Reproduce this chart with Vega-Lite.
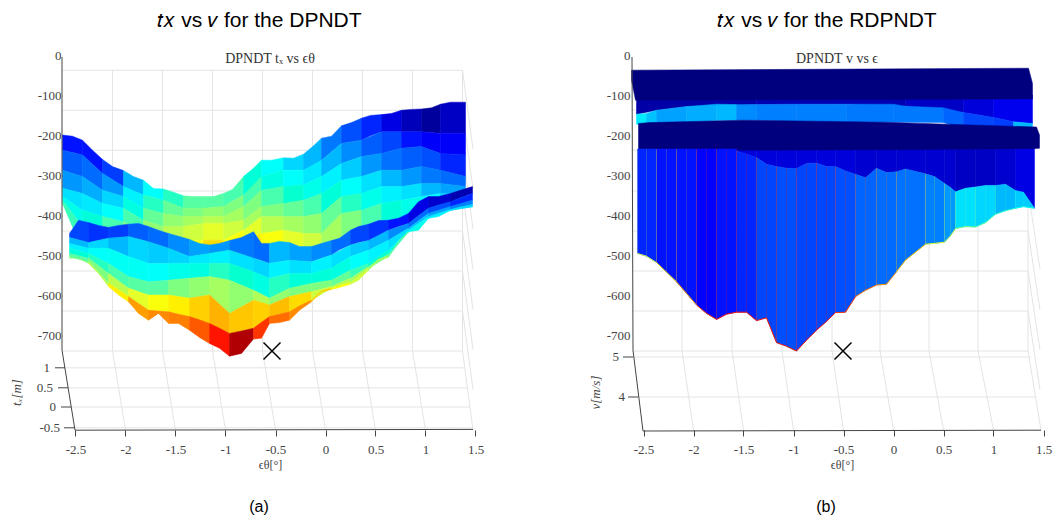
{"$schema":"https://vega.github.io/schema/vega-lite/v6.json","padding":0,"spacing":0,"background":"white","config":{"view":{"stroke":null}},
"hconcat":[
{"width":531,"height":517,
"title":{"text":"𝑡𝑥 vs 𝑣 for the DPNDT","font":"Liberation Sans","fontSize":21,"fontWeight":"normal","color":"#000000","anchor":"middle","dx":-6,"offset":-31},
"encoding":{
"x":{"field":"x","type":"quantitative","scale":{"domain":[-3.255,2.055],"nice":false,"zero":false},"axis":{"values":[-2.5,-2,-1.5,-1,-0.5,0,0.5,1,1.5],"labelExpr":"''+datum.value","offset":-87,"domain":false,"grid":false,"tickColor":"#444444","tickSize":6,"labelFont":"Liberation Serif","labelFontSize":13,"labelColor":"#444444","labelPadding":7,"title":"ϵθ[°]","titleFont":"Liberation Serif","titleFontSize":12,"titleFontWeight":"normal","titleColor":"#444444","titleX":270,"titleY":29}},
"y":{"field":"a","type":"quantitative","scale":{"domain":[-1155,137.5],"nice":false,"zero":false},"axis":{"values":[0,-100,-200,-300,-400,-500,-600,-700],"labelExpr":"''+datum.value","offset":-62,"domain":false,"grid":false,"ticks":false,"labelFont":"Liberation Serif","labelFontSize":13,"labelColor":"#444444","labelPadding":1,"title":"tₓ[m]","titleFont":"Liberation Serif","titleFontStyle":"italic","titleFontSize":13,"titleFontWeight":"normal","titleColor":"#444444","titleX":-39,"titleY":392}}},
"layer":[
{"mark":{"type":"rule","stroke":"#e4e4e4","strokeWidth":1},
"data":{"values":[
{"x":-2.63,"x2":1.37,"a":-38,"b":-38},{"x":-2.63,"x2":1.37,"a":-138,"b":-138},{"x":-2.63,"x2":1.37,"a":-238,"b":-238},{"x":-2.63,"x2":1.37,"a":-340,"b":-340},{"x":-2.63,"x2":1.37,"a":-440,"b":-440},{"x":-2.63,"x2":1.37,"a":-540,"b":-540},{"x":-2.63,"x2":1.37,"a":-640,"b":-640},{"x":-2.63,"x2":1.37,"a":-740,"b":-740},
{"x":-2.13,"x2":-2.13,"a":-38,"b":-740},{"x":-1.63,"x2":-1.63,"a":-38,"b":-740},{"x":-1.13,"x2":-1.13,"a":-38,"b":-740},{"x":-0.63,"x2":-0.63,"a":-38,"b":-740},{"x":-0.13,"x2":-0.13,"a":-38,"b":-740},{"x":0.37,"x2":0.37,"a":-38,"b":-740},{"x":0.87,"x2":0.87,"a":-38,"b":-740},{"x":1.37,"x2":1.37,"a":-38,"b":-740},
{"x":-2.13,"x2":-2,"a":-740,"b":-938},{"x":-1.63,"x2":-1.5,"a":-740,"b":-938},{"x":-1.13,"x2":-1,"a":-740,"b":-938},{"x":-0.63,"x2":-0.5,"a":-740,"b":-938},{"x":-0.13,"x2":0,"a":-740,"b":-938},{"x":0.37,"x2":0.5,"a":-740,"b":-938},{"x":0.87,"x2":1,"a":-740,"b":-938},{"x":1.37,"x2":1.475,"a":-740,"b":-938},
{"x":-2.6,"x2":1.385,"a":-782,"b":-782},{"x":-2.57,"x2":1.415,"a":-832,"b":-832},{"x":-2.54,"x2":1.445,"a":-880,"b":-880},{"x":-2.52,"x2":1.475,"a":-932,"b":-932},
{"x":1.37,"x2":1.475,"a":-38,"b":-235},{"x":1.37,"x2":1.475,"a":-138,"b":-335},{"x":1.37,"x2":1.475,"a":-238,"b":-435},{"x":1.37,"x2":1.475,"a":-340,"b":-537},{"x":1.37,"x2":1.475,"a":-440,"b":-637},{"x":1.37,"x2":1.475,"a":-540,"b":-737},{"x":1.37,"x2":1.475,"a":-640,"b":-837}
]},"encoding":{"x2":{"field":"x2"},"y2":{"field":"b"}}},
{"mark":{"type":"area","strokeWidth":0.5},
"data":{"values":[
{"x":[-2.63,-2.53,-2.43],"a":[-200,-203,-213],"b":[-238,-244,-250],"z":13},{"x":[-2.63,-2.43],"a":[-238,-250],"b":[-288,-304],"z":20},{"x":[-2.63,-2.43],"a":[-288,-304],"b":[-333,-346],"z":27},{"x":[-2.63,-2.43],"a":[-333,-346],"b":[-354,-388],"z":34},{"x":[-2.63,-2.43],"a":[-354,-388],"b":[-363,-429],"z":40},{"x":[-2.63,-2.43],"a":[-363,-429],"b":[-371,-488],"z":45},
{"x":[-2.43,-2.33,-2.23],"a":[-213,-238,-261],"b":[-250,-273,-296],"z":13},{"x":[-2.43,-2.23],"a":[-250,-296],"b":[-304,-338],"z":22},{"x":[-2.43,-2.23],"a":[-304,-338],"b":[-346,-371],"z":29},{"x":[-2.43,-2.23],"a":[-346,-371],"b":[-388,-404],"z":35},{"x":[-2.43,-2.23],"a":[-388,-404],"b":[-429,-446],"z":42},{"x":[-2.43,-2.23],"a":[-429,-446],"b":[-488,-488],"z":47},
{"x":[-2.23,-2.13,-2.02],"a":[-261,-279,-289],"b":[-296,-312,-329],"z":16},{"x":[-2.23,-2.02],"a":[-296,-329],"b":[-338,-354],"z":27},{"x":[-2.23,-2.02],"a":[-338,-354],"b":[-371,-383],"z":33},{"x":[-2.23,-2.02],"a":[-371,-383],"b":[-404,-417],"z":38},{"x":[-2.23,-2.02],"a":[-404,-417],"b":[-446,-454],"z":46},{"x":[-2.23,-2.02],"a":[-446,-454],"b":[-488,-488],"z":52},
{"x":[-2.02,-1.92,-1.82],"a":[-289,-304,-313],"b":[-329,-340,-350],"z":30},{"x":[-2.02,-1.82],"a":[-329,-350],"b":[-354,-383],"z":36},{"x":[-2.02,-1.82],"a":[-354,-383],"b":[-383,-413],"z":41},{"x":[-2.02,-1.82],"a":[-383,-413],"b":[-417,-446],"z":46},{"x":[-2.02,-1.82],"a":[-417,-446],"b":[-454,-463],"z":50},{"x":[-2.02,-1.82],"a":[-454,-463],"b":[-488,-488],"z":54},
{"x":[-1.82,-1.72,-1.62],"a":[-313,-334,-335],"b":[-350,-356,-363],"z":38},{"x":[-1.82,-1.62],"a":[-350,-363],"b":[-383,-396],"z":44},{"x":[-1.82,-1.62],"a":[-383,-396],"b":[-413,-429],"z":48},{"x":[-1.82,-1.62],"a":[-413,-429],"b":[-446,-454],"z":52},{"x":[-1.82,-1.62],"a":[-446,-454],"b":[-463,-471],"z":56},{"x":[-1.82,-1.62],"a":[-463,-471],"b":[-488,-496],"z":58},
{"x":[-1.62,-1.52,-1.42],"a":[-335,-343,-352],"b":[-363,-373,-383],"z":44},{"x":[-1.62,-1.42],"a":[-363,-383],"b":[-396,-404],"z":48},{"x":[-1.62,-1.42],"a":[-396,-404],"b":[-429,-429],"z":52},{"x":[-1.62,-1.42],"a":[-429,-429],"b":[-454,-463],"z":56},{"x":[-1.62,-1.42],"a":[-454,-463],"b":[-471,-479],"z":60},{"x":[-1.62,-1.42],"a":[-471,-479],"b":[-496,-496],"z":62},
{"x":[-1.42,-1.32,-1.22],"a":[-352,-354,-354],"b":[-383,-383,-383],"z":47},{"x":[-1.42,-1.22],"a":[-383,-383],"b":[-404,-404],"z":50},{"x":[-1.42,-1.22],"a":[-404,-404],"b":[-429,-421],"z":54},{"x":[-1.42,-1.22],"a":[-429,-421],"b":[-463,-463],"z":58},{"x":[-1.42,-1.22],"a":[-463,-463],"b":[-479,-479],"z":62},{"x":[-1.42,-1.22],"a":[-479,-479],"b":[-496,-504],"z":66},
{"x":[-1.22,-1.12,-1.02],"a":[-354,-354,-346],"b":[-383,-381,-379],"z":47},{"x":[-1.22,-1.02],"a":[-383,-379],"b":[-404,-404],"z":52},{"x":[-1.22,-1.02],"a":[-404,-404],"b":[-421,-421],"z":56},{"x":[-1.22,-1.02],"a":[-421,-421],"b":[-463,-463],"z":60},{"x":[-1.22,-1.02],"a":[-463,-463],"b":[-479,-479],"z":66},{"x":[-1.22,-1.02],"a":[-479,-479],"b":[-504,-504],"z":68},
{"x":[-1.02,-0.93,-0.82],"a":[-346,-336,-304],"b":[-379,-365,-350],"z":46},{"x":[-1.02,-0.82],"a":[-379,-350],"b":[-404,-379],"z":50},{"x":[-1.02,-0.82],"a":[-404,-379],"b":[-421,-413],"z":54},{"x":[-1.02,-0.82],"a":[-421,-413],"b":[-463,-438],"z":58},{"x":[-1.02,-0.82],"a":[-463,-438],"b":[-479,-463],"z":62},{"x":[-1.02,-0.82],"a":[-479,-463],"b":[-504,-504],"z":66},
{"x":[-0.82,-0.72,-0.64],"a":[-304,-283,-263],"b":[-350,-327,-304],"z":42},{"x":[-0.82,-0.64],"a":[-350,-304],"b":[-379,-338],"z":46},{"x":[-0.82,-0.64],"a":[-379,-338],"b":[-413,-379],"z":50},{"x":[-0.82,-0.64],"a":[-413,-379],"b":[-438,-404],"z":54},{"x":[-0.82,-0.64],"a":[-438,-404],"b":[-463,-446],"z":60},{"x":[-0.82,-0.64],"a":[-463,-446],"b":[-504,-504],"z":64},
{"x":[-0.64,-0.54,-0.42],"a":[-263,-263,-257],"b":[-304,-296,-288],"z":38},{"x":[-0.64,-0.42],"a":[-304,-288],"b":[-338,-329],"z":41},{"x":[-0.64,-0.42],"a":[-338,-329],"b":[-379,-371],"z":46},{"x":[-0.64,-0.42],"a":[-379,-371],"b":[-404,-404],"z":50},{"x":[-0.64,-0.42],"a":[-404,-404],"b":[-446,-438],"z":56},{"x":[-0.64,-0.42],"a":[-446,-438],"b":[-504,-496],"z":62},
{"x":[-0.42,-0.32,-0.22],"a":[-257,-258,-248],"b":[-288,-288,-288],"z":33},{"x":[-0.42,-0.22],"a":[-288,-288],"b":[-329,-325],"z":38},{"x":[-0.42,-0.22],"a":[-329,-325],"b":[-371,-363],"z":43},{"x":[-0.42,-0.22],"a":[-371,-363],"b":[-404,-404],"z":48},{"x":[-0.42,-0.22],"a":[-404,-404],"b":[-438,-446],"z":54},{"x":[-0.42,-0.22],"a":[-438,-446],"b":[-496,-504],"z":60},
{"x":[-0.22,-0.12,-0.04],"a":[-248,-227,-208],"b":[-288,-275,-263],"z":30},{"x":[-0.22,-0.04],"a":[-288,-263],"b":[-325,-304],"z":35},{"x":[-0.22,-0.04],"a":[-325,-304],"b":[-363,-346],"z":40},{"x":[-0.22,-0.04],"a":[-363,-346],"b":[-404,-396],"z":46},{"x":[-0.22,-0.04],"a":[-404,-396],"b":[-446,-446],"z":52},{"x":[-0.22,-0.04],"a":[-446,-446],"b":[-504,-504],"z":58},
{"x":[-0.04,0.06,0.16],"a":[-208,-203,-177],"b":[-263,-242,-221],"z":24},{"x":[-0.04,0.16],"a":[-263,-221],"b":[-304,-271],"z":30},{"x":[-0.04,0.16],"a":[-304,-271],"b":[-346,-313],"z":36},{"x":[-0.04,0.16],"a":[-346,-313],"b":[-396,-354],"z":42},{"x":[-0.04,0.16],"a":[-396,-354],"b":[-446,-396],"z":48},{"x":[-0.04,0.16],"a":[-446,-396],"b":[-504,-479],"z":54},
{"x":[0.16,0.26,0.36],"a":[-177,-169,-158],"b":[-221,-217,-213],"z":18},{"x":[0.16,0.36],"a":[-221,-213],"b":[-271,-254],"z":26},{"x":[0.16,0.36],"a":[-271,-254],"b":[-313,-304],"z":32},{"x":[0.16,0.36],"a":[-313,-304],"b":[-354,-346],"z":38},{"x":[0.16,0.36],"a":[-354,-346],"b":[-396,-388],"z":44},{"x":[0.16,0.36],"a":[-396,-388],"b":[-479,-463],"z":50},
{"x":[0.36,0.45,0.56],"a":[-158,-151,-149],"b":[-213,-202,-192],"z":14},{"x":[0.36,0.56],"a":[-213,-192],"b":[-254,-246],"z":20},{"x":[0.36,0.56],"a":[-254,-246],"b":[-304,-288],"z":27},{"x":[0.36,0.56],"a":[-304,-288],"b":[-346,-329],"z":34},{"x":[0.36,0.56],"a":[-346,-329],"b":[-388,-371],"z":40},{"x":[0.36,0.56],"a":[-388,-371],"b":[-463,-438],"z":46},
{"x":[0.56,0.66,0.76],"a":[-149,-146,-138],"b":[-192,-192,-192],"z":10},{"x":[0.56,0.76],"a":[-192,-192],"b":[-246,-233],"z":17},{"x":[0.56,0.76],"a":[-246,-233],"b":[-288,-288],"z":23},{"x":[0.56,0.76],"a":[-288,-288],"b":[-329,-329],"z":30},{"x":[0.56,0.76],"a":[-329,-329],"b":[-371,-363],"z":36},{"x":[0.56,0.76],"a":[-371,-363],"b":[-438,-413],"z":42},
{"x":[0.76,0.86,0.96],"a":[-138,-136,-135],"b":[-192,-192,-192],"z":6},{"x":[0.76,0.96],"a":[-192,-192],"b":[-233,-229],"z":13},{"x":[0.76,0.96],"a":[-233,-229],"b":[-288,-279],"z":20},{"x":[0.76,0.96],"a":[-288,-279],"b":[-329,-321],"z":27},{"x":[0.76,0.96],"a":[-329,-321],"b":[-363,-354],"z":34},{"x":[0.76,0.96],"a":[-363,-354],"b":[-413,-396],"z":40},
{"x":[0.96,1.06,1.15],"a":[-135,-132,-123],"b":[-192,-194,-196],"z":3},{"x":[0.96,1.15],"a":[-192,-196],"b":[-229,-246],"z":12},{"x":[0.96,1.15],"a":[-229,-246],"b":[-279,-288],"z":18},{"x":[0.96,1.15],"a":[-279,-288],"b":[-321,-321],"z":24},{"x":[0.96,1.15],"a":[-321,-321],"b":[-354,-346],"z":30},{"x":[0.96,1.15],"a":[-354,-346],"b":[-396,-388],"z":37},
{"x":[1.15,1.25,1.4],"a":[-123,-118,-118],"b":[-196,-196,-196],"z":7},{"x":[1.15,1.4],"a":[-196,-196],"b":[-246,-250],"z":12},{"x":[1.15,1.4],"a":[-246,-250],"b":[-288,-304],"z":14},{"x":[1.15,1.4],"a":[-288,-304],"b":[-321,-329],"z":22},{"x":[1.15,1.4],"a":[-321,-329],"b":[-346,-346],"z":28},{"x":[1.15,1.4],"a":[-346,-346],"b":[-388,-379],"z":32},

{"x":[-2.56,-2.47,-2.37],"a":[-446,-413,-419],"b":[-456,-462,-469],"z":17},{"x":[-2.56,-2.37],"a":[-456,-469],"b":[-471,-483],"z":30},{"x":[-2.56,-2.37],"a":[-471,-483],"b":[-483,-496],"z":36},{"x":[-2.56,-2.37],"a":[-483,-496],"b":[-496,-508],"z":42},{"x":[-2.56,-2.37],"a":[-496,-508],"b":[-504,-517],"z":47},{"x":[-2.56,-2.47,-2.37],"a":[-504,-510,-517],"b":[-508,-508,-521],"z":50},
{"x":[-2.37,-2.27,-2.17],"a":[-419,-426,-431],"b":[-469,-463,-458],"z":15},{"x":[-2.37,-2.17],"a":[-469,-458],"b":[-483,-483],"z":33},{"x":[-2.37,-2.17],"a":[-483,-483],"b":[-496,-521],"z":38},{"x":[-2.37,-2.17],"a":[-496,-521],"b":[-508,-546],"z":44},{"x":[-2.37,-2.17],"a":[-508,-546],"b":[-517,-571],"z":50},{"x":[-2.37,-2.27,-2.17],"a":[-517,-544,-571],"b":[-521,-546,-579],"z":56},
{"x":[-2.17,-2.07,-1.97],"a":[-431,-426,-423],"b":[-458,-456,-454],"z":16},{"x":[-2.17,-1.97],"a":[-458,-454],"b":[-483,-504],"z":30},{"x":[-2.17,-1.97],"a":[-483,-504],"b":[-521,-554],"z":39},{"x":[-2.17,-1.97],"a":[-521,-554],"b":[-546,-583],"z":46},{"x":[-2.17,-1.97],"a":[-546,-583],"b":[-571,-604],"z":56},{"x":[-2.17,-2.07,-1.97],"a":[-571,-587,-604],"b":[-579,-600,-617],"z":64},
{"x":[-1.97,-1.87,-1.77],"a":[-423,-421,-429],"b":[-454,-460,-467],"z":20},{"x":[-1.97,-1.77],"a":[-454,-467],"b":[-504,-521],"z":33},{"x":[-1.97,-1.77],"a":[-504,-521],"b":[-554,-567],"z":39},{"x":[-1.97,-1.77],"a":[-554,-567],"b":[-583,-600],"z":47},{"x":[-1.97,-1.77],"a":[-583,-600],"b":[-604,-638],"z":60},{"x":[-1.97,-1.87,-1.77],"a":[-604,-621,-638],"b":[-617,-646,-663],"z":72},
{"x":[-1.77,-1.67,-1.57],"a":[-429,-438,-446],"b":[-467,-475,-483],"z":22},{"x":[-1.77,-1.57],"a":[-467,-483],"b":[-521,-521],"z":32},{"x":[-1.77,-1.57],"a":[-521,-521],"b":[-567,-563],"z":38},{"x":[-1.77,-1.57],"a":[-567,-563],"b":[-600,-600],"z":47},{"x":[-1.77,-1.57],"a":[-600,-600],"b":[-638,-642],"z":62},{"x":[-1.77,-1.67,-1.57],"a":[-638,-640,-642],"b":[-663,-646,-671],"z":74},
{"x":[-1.57,-1.47,-1.36],"a":[-446,-453,-461],"b":[-483,-493,-504],"z":26},{"x":[-1.57,-1.36],"a":[-483,-504],"b":[-521,-521],"z":33},{"x":[-1.57,-1.36],"a":[-521,-521],"b":[-563,-558],"z":40},{"x":[-1.57,-1.36],"a":[-563,-558],"b":[-600,-608],"z":50},{"x":[-1.57,-1.36],"a":[-600,-608],"b":[-642,-654],"z":64},{"x":[-1.57,-1.47,-1.36],"a":[-642,-648,-654],"b":[-671,-671,-688],"z":75},
{"x":[-1.36,-1.26,-1.16],"a":[-461,-471,-475],"b":[-504,-500,-496],"z":28},{"x":[-1.36,-1.16],"a":[-504,-496],"b":[-521,-521],"z":35},{"x":[-1.36,-1.16],"a":[-521,-521],"b":[-558,-554],"z":41},{"x":[-1.36,-1.16],"a":[-558,-554],"b":[-608,-600],"z":52},{"x":[-1.36,-1.16],"a":[-608,-600],"b":[-654,-671],"z":67},{"x":[-1.36,-1.26,-1.16],"a":[-654,-662,-671],"b":[-688,-706,-721],"z":81},
{"x":[-1.16,-1.06,-0.96],"a":[-475,-471,-464],"b":[-496,-492,-488],"z":27},{"x":[-1.16,-0.96],"a":[-496,-488],"b":[-521,-521],"z":36},{"x":[-1.16,-0.96],"a":[-521,-521],"b":[-554,-563],"z":44},{"x":[-1.16,-0.96],"a":[-554,-563],"b":[-600,-646],"z":54},{"x":[-1.16,-0.96],"a":[-600,-646],"b":[-671,-696],"z":70},{"x":[-1.16,-1.06,-0.96],"a":[-671,-683,-696],"b":[-721,-733,-753],"z":87},
{"x":[-0.96,-0.84,-0.72],"a":[-464,-456,-442],"b":[-488,-498,-508],"z":24},{"x":[-0.96,-0.72],"a":[-488,-508],"b":[-521,-542],"z":34},{"x":[-0.96,-0.72],"a":[-521,-542],"b":[-563,-588],"z":43},{"x":[-0.96,-0.72],"a":[-563,-588],"b":[-646,-613],"z":52},{"x":[-0.96,-0.72],"a":[-646,-613],"b":[-696,-683],"z":68},{"x":[-0.96,-0.84,-0.72],"a":[-696,-690,-683],"b":[-753,-746,-710],"z":95},
{"x":[-0.72,-0.64,-0.56],"a":[-442,-471,-471],"b":[-508,-514,-521],"z":22},{"x":[-0.72,-0.56],"a":[-508,-521],"b":[-542,-558],"z":33},{"x":[-0.72,-0.56],"a":[-542,-558],"b":[-588,-608],"z":41},{"x":[-0.72,-0.56],"a":[-588,-608],"b":[-613,-625],"z":55},{"x":[-0.72,-0.56],"a":[-613,-625],"b":[-683,-654],"z":67},{"x":[-0.72,-0.64,-0.56],"a":[-683,-668,-654],"b":[-710,-708,-671],"z":85},
{"x":[-0.56,-0.46,-0.36],"a":[-471,-466,-469],"b":[-521,-517,-513],"z":30},{"x":[-0.56,-0.36],"a":[-521,-513],"b":[-558,-546],"z":36},{"x":[-0.56,-0.36],"a":[-558,-546],"b":[-608,-583],"z":44},{"x":[-0.56,-0.36],"a":[-608,-583],"b":[-625,-604],"z":52},{"x":[-0.56,-0.36],"a":[-625,-604],"b":[-654,-642],"z":69},{"x":[-0.56,-0.46,-0.36],"a":[-654,-648,-642],"b":[-671,-669,-663],"z":78},
{"x":[-0.36,-0.26,-0.14],"a":[-469,-479,-479],"b":[-513,-515,-517],"z":28},{"x":[-0.36,-0.14],"a":[-513,-517],"b":[-546,-546],"z":34},{"x":[-0.36,-0.14],"a":[-546,-546],"b":[-583,-571],"z":42},{"x":[-0.36,-0.14],"a":[-583,-571],"b":[-604,-592],"z":50},{"x":[-0.36,-0.14],"a":[-604,-592],"b":[-642,-613],"z":66},{"x":[-0.36,-0.26,-0.14],"a":[-642,-627,-613],"b":[-663,-638,-617],"z":74},
{"x":[-0.14,-0.04,0.06],"a":[-479,-471,-464],"b":[-517,-508,-500],"z":26},{"x":[-0.14,0.06],"a":[-517,-500],"b":[-546,-533],"z":36},{"x":[-0.14,0.06],"a":[-546,-533],"b":[-571,-563],"z":42},{"x":[-0.14,0.06],"a":[-571,-563],"b":[-592,-579],"z":50},{"x":[-0.14,0.06],"a":[-592,-579],"b":[-613,-583],"z":58},{"x":[-0.14,-0.04,0.06],"a":[-613,-590,-583],"b":[-617,-592,-586],"z":68},
{"x":[0.06,0.14,0.25],"a":[-464,-458,-438],"b":[-500,-487,-475],"z":22},{"x":[0.06,0.25],"a":[-500,-475],"b":[-533,-504],"z":34},{"x":[0.06,0.25],"a":[-533,-504],"b":[-563,-538],"z":41},{"x":[0.06,0.25],"a":[-563,-538],"b":[-579,-558],"z":48},{"x":[0.06,0.25],"a":[-579,-558],"b":[-583,-569],"z":56},{"x":[0.06,0.14,0.25],"a":[-583,-576,-569],"b":[-586,-581,-573],"z":62},
{"x":[0.25,0.33,0.43],"a":[-438,-429,-423],"b":[-475,-469,-464],"z":17},{"x":[0.25,0.43],"a":[-475,-464],"b":[-504,-488],"z":32},{"x":[0.25,0.43],"a":[-504,-488],"b":[-538,-521],"z":38},{"x":[0.25,0.43],"a":[-538,-521],"b":[-558,-529],"z":45},{"x":[0.25,0.43],"a":[-558,-529],"b":[-569,-534],"z":53},{"x":[0.25,0.33,0.43],"a":[-569,-551,-534],"b":[-573,-563,-538],"z":58},
{"x":[0.43,0.53,0.63],"a":[-423,-414,-413],"b":[-464,-451,-438],"z":15},{"x":[0.43,0.63],"a":[-464,-438],"b":[-488,-463],"z":30},{"x":[0.43,0.63],"a":[-488,-463],"b":[-521,-488],"z":36},{"x":[0.43,0.63],"a":[-521,-488],"b":[-529,-498],"z":43},{"x":[0.43,0.63],"a":[-529,-498],"b":[-534,-503],"z":50},{"x":[0.43,0.53,0.63],"a":[-534,-510,-503],"b":[-538,-513,-506],"z":54},
{"x":[0.63,0.73,0.83],"a":[-413,-408,-396],"b":[-438,-429,-421],"z":13},{"x":[0.63,0.83],"a":[-438,-421],"b":[-463,-433],"z":26},{"x":[0.63,0.83],"a":[-463,-433],"b":[-488,-439],"z":34},{"x":[0.63,0.83],"a":[-488,-439],"b":[-498,-442],"z":40},{"x":[0.63,0.83],"a":[-498,-442],"b":[-503,-442],"z":46},{"x":[0.63,0.73,0.83],"a":[-503,-465,-442],"b":[-506,-467,-442],"z":48},
{"x":[0.83,0.93,1.03],"a":[-396,-367,-354],"b":[-421,-402,-383],"z":10},{"x":[0.83,1.03],"a":[-421,-383],"b":[-433,-396],"z":22},{"x":[0.83,1.03],"a":[-433,-396],"b":[-439,-404],"z":31},{"x":[0.83,1.03],"a":[-439,-404],"b":[-442,-407],"z":36},{"x":[0.83,1.03],"a":[-442,-407],"b":[-442,-408],"z":40},{"x":[0.83,0.93,1.03],"a":[-442,-425,-408],"b":[-442,-438,-408],"z":40},
{"x":[1.03,1.13,1.25],"a":[-354,-354,-346],"b":[-383,-375,-367],"z":8},{"x":[1.03,1.25],"a":[-383,-367],"b":[-396,-379],"z":18},{"x":[1.03,1.25],"a":[-396,-379],"b":[-404,-386],"z":28},{"x":[1.03,1.25],"a":[-404,-386],"b":[-407,-388],"z":34},{"x":[1.03,1.25],"a":[-407,-388],"b":[-408,-388],"z":36},{"x":[1.03,1.13,1.25],"a":[-408,-398,-388],"b":[-408,-404,-388],"z":36},
{"x":[1.25,1.35,1.47],"a":[-346,-338,-329],"b":[-367,-356,-346],"z":5},{"x":[1.25,1.47],"a":[-367,-346],"b":[-379,-363],"z":14},{"x":[1.25,1.47],"a":[-379,-363],"b":[-386,-373],"z":25},{"x":[1.25,1.47],"a":[-386,-373],"b":[-388,-379],"z":32},{"x":[1.25,1.47],"a":[-388,-379],"b":[-388,-379],"z":34},{"x":[1.25,1.35,1.47],"a":[-388,-380,-379],"b":[-388,-381,-379],"z":34}
]},
"transform":[{"window":[{"op":"row_number","as":"id"}]},{"flatten":["x","a","b"]}],
"encoding":{"y2":{"field":"b"},"detail":{"field":"id","type":"nominal"},
"color":{"field":"z","type":"quantitative","legend":null,"scale":{"domain":[0,12.5,25,37.5,50,62.5,75,87.5,100],"range":["#00007f","#0000ff","#007fff","#00ffff","#7fff7f","#ffff00","#ff7f00","#ff0000","#7f0000"]}},
"stroke":{"field":"z","type":"quantitative","legend":null,"scale":{"domain":[0,12.5,25,37.5,50,62.5,75,87.5,100],"range":["#00007f","#0000ff","#007fff","#00ffff","#7fff7f","#ffff00","#ff7f00","#ff0000","#7f0000"]}}}},
{"mark":{"type":"rule","stroke":"#444444","strokeWidth":1},
"data":{"values":[
{"x":-2.635,"x2":-2.635,"a":-5,"b":-738},{"x":-2.635,"x2":-2.505,"a":-738,"b":-938},{"x":-2.505,"x2":1.475,"a":-938,"b":-936},
{"x":-2.705,"x2":-2.605,"a":-782,"b":-782},{"x":-2.675,"x2":-2.575,"a":-832,"b":-832},{"x":-2.645,"x2":-2.545,"a":-880,"b":-880},{"x":-2.615,"x2":-2.515,"a":-932,"b":-932}
]},"encoding":{"x2":{"field":"x2"},"y2":{"field":"b"}}},
{"mark":{"type":"text","align":"right","baseline":"middle","font":"Liberation Serif","fontSize":13,"color":"#444444"},
"data":{"values":[{"x":-2.755,"a":-782,"t":"1"},{"x":-2.725,"a":-832,"t":"0.5"},{"x":-2.695,"a":-880,"t":"0"},{"x":-2.655,"a":-932,"t":"-0.5"}]},"encoding":{"text":{"field":"t"}}},
{"mark":{"type":"text","align":"center","baseline":"middle","font":"Liberation Serif","fontSize":14,"color":"#333333"},
"data":{"values":[{"x":-0.555,"a":-10,"t":"DPNDT tₓ vs ϵθ"}]},"encoding":{"text":{"field":"t"}}},
{"mark":{"type":"text","align":"center","baseline":"middle","font":"Liberation Sans","fontSize":16,"color":"#000000"},
"data":{"values":[{"x":-0.665,"a":-1130,"t":"(a)"}]},"encoding":{"text":{"field":"t"}}},
{"mark":{"type":"point","shape":"M-1,-1L1,1M-1,1L1,-1","filled":false,"stroke":"#000000","strokeWidth":1.5,"size":289,"opacity":1},
"data":{"values":[{"x":-0.535,"a":-740}]}}
]},
{"width":532,"height":517,
"title":{"text":"𝑡𝑥 vs 𝑣 for the RDPNDT","font":"Liberation Sans","fontSize":21,"fontWeight":"normal","color":"#000000","anchor":"middle","dx":30,"offset":-31},
"encoding":{
"x":{"field":"x","type":"quantitative","scale":{"domain":[-3.625,1.695],"nice":false,"zero":false},"axis":{"values":[-2.5,-2,-1.5,-1,-0.5,0,0.5,1,1.5],"labelExpr":"''+datum.value","offset":-87,"domain":false,"grid":false,"tickColor":"#444444","tickSize":6,"labelFont":"Liberation Serif","labelFontSize":13,"labelColor":"#444444","labelPadding":7,"title":"ϵθ[°]","titleFont":"Liberation Serif","titleFontSize":12,"titleFontWeight":"normal","titleColor":"#444444","titleX":311,"titleY":29}},
"y":{"field":"a","type":"quantitative","scale":{"domain":[-1155,137.5],"nice":false,"zero":false},"axis":{"values":[0,-100,-200,-300,-400,-500,-600,-700],"labelExpr":"''+datum.value","offset":-100,"domain":false,"grid":false,"ticks":false,"labelFont":"Liberation Serif","labelFontSize":13,"labelColor":"#444444","labelPadding":1,"title":"v[m/s]","titleFont":"Liberation Serif","titleFontStyle":"italic","titleFontSize":13,"titleFontWeight":"normal","titleColor":"#444444","titleX":-29,"titleY":392}}},
"layer":[
{"mark":{"type":"rule","stroke":"#e4e4e4","strokeWidth":1},
"data":{"values":[
{"x":-2.615,"x2":1.345,"a":-38,"b":-38},{"x":-2.615,"x2":1.345,"a":-138,"b":-138},{"x":-2.615,"x2":1.345,"a":-238,"b":-238},{"x":-2.615,"x2":1.345,"a":-340,"b":-340},{"x":-2.615,"x2":1.345,"a":-440,"b":-440},{"x":-2.615,"x2":1.345,"a":-540,"b":-540},{"x":-2.615,"x2":1.345,"a":-640,"b":-640},{"x":-2.615,"x2":1.345,"a":-740,"b":-740},
{"x":-2.115,"x2":-2.115,"a":-38,"b":-740},{"x":-1.615,"x2":-1.615,"a":-38,"b":-740},{"x":-1.115,"x2":-1.115,"a":-38,"b":-740},{"x":-0.615,"x2":-0.615,"a":-38,"b":-740},{"x":-0.135,"x2":-0.135,"a":-38,"b":-740},{"x":0.355,"x2":0.355,"a":-38,"b":-740},{"x":0.845,"x2":0.845,"a":-38,"b":-740},{"x":1.345,"x2":1.345,"a":-38,"b":-740},
{"x":-2.115,"x2":-2,"a":-740,"b":-938},{"x":-1.615,"x2":-1.5,"a":-740,"b":-938},{"x":-1.115,"x2":-1,"a":-740,"b":-938},{"x":-0.615,"x2":-0.5,"a":-740,"b":-938},{"x":-0.135,"x2":0,"a":-740,"b":-938},{"x":0.355,"x2":0.5,"a":-740,"b":-938},{"x":0.845,"x2":1,"a":-740,"b":-938},{"x":1.345,"x2":1.475,"a":-740,"b":-938},
{"x":-2.6,"x2":1.37,"a":-755,"b":-755},{"x":-2.555,"x2":1.415,"a":-855,"b":-855},
{"x":1.345,"x2":1.465,"a":-338,"b":-535},{"x":1.345,"x2":1.465,"a":-440,"b":-637},{"x":1.345,"x2":1.465,"a":-540,"b":-737},{"x":1.345,"x2":1.465,"a":-640,"b":-837}
]},"encoding":{"x2":{"field":"x2"},"y2":{"field":"b"}}},
{"mark":{"type":"area","strokeWidth":0.5},
"data":{"values":[
{"x":[-2.57,-2.37,-2.07,-1.37],"a":[-100,-100,-100,-100],"b":[-148,-138,-129,-124],"z":4},{"x":[-1.37,-0.47,0.12],"a":[-100,-100,-100],"b":[-124,-123,-128],"z":5},{"x":[0.12,0.7],"a":[-100,-100],"b":[-128,-144],"z":7},{"x":[0.7,1],"a":[-100,-100],"b":[-144,-156],"z":9},{"x":[1,1.2,1.39],"a":[-100,-100,-100],"b":[-156,-167,-171],"z":11},
{"x":[-2.57,-2.47],"a":[-148,-146],"b":[-173,-173],"z":35},{"x":[-2.47,-2.37],"a":[-146,-138],"b":[-173,-173],"z":31},{"x":[-2.37,-2.07],"a":[-138,-129],"b":[-173,-169],"z":28},{"x":[-2.07,-1.77],"a":[-129,-123],"b":[-169,-164],"z":29},{"x":[-1.77,-1.57],"a":[-123,-124],"b":[-164,-163],"z":30},{"x":[-1.57,-1.37],"a":[-124,-124],"b":[-163,-163],"z":26},{"x":[-1.37,-0.97],"a":[-124,-123],"b":[-163,-166],"z":25},{"x":[-0.97,-0.47],"a":[-123,-123],"b":[-166,-168],"z":25},{"x":[-0.47,0],"a":[-123,-123],"b":[-168,-168],"z":24},{"x":[0,0.12,0.5],"a":[-123,-128,-132],"b":[-168,-168,-169],"z":24},{"x":[0.5,0.6,0.7],"a":[-132,-138,-144],"b":[-169,-177,-178],"z":21},{"x":[0.7,1],"a":[-144,-156],"b":[-178,-180],"z":17},{"x":[1,1.2],"a":[-156,-167],"b":[-180,-182],"z":16},{"x":[1.2,1.39],"a":[-167,-171],"b":[-182,-183],"z":30},
{"x":[-1.57,-1.47,-1.37],"a":[-225,-225,-225],"b":[-240,-248,-256],"z":9},{"x":[-1.37,-1.27,-1.17],"a":[-225,-225,-225],"b":[-256,-273,-279],"z":9},{"x":[-1.17,-1.07,-0.97],"a":[-225,-225,-225],"b":[-279,-283,-284],"z":9},{"x":[-0.97,-0.87,-0.77],"a":[-225,-225,-225],"b":[-284,-271,-270],"z":9},{"x":[-0.77,-0.67,-0.58],"a":[-225,-225,-225],"b":[-270,-279,-279],"z":9},{"x":[-0.58,-0.48,-0.38],"a":[-225,-225,-225],"b":[-279,-290,-298],"z":9},{"x":[-0.38,-0.28,-0.17],"a":[-225,-225,-225],"b":[-298,-307,-283],"z":8},{"x":[-0.17,-0.07,0.03],"a":[-225,-225,-225],"b":[-283,-294,-292],"z":8},{"x":[0.03,0.12,0.32],"a":[-225,-225,-225],"b":[-292,-285,-297],"z":8},{"x":[0.32,0.41,0.51],"a":[-225,-225,-225],"b":[-297,-304,-321],"z":8},{"x":[0.51,0.57,0.62],"a":[-225,-225,-225],"b":[-321,-331,-342],"z":8},{"x":[0.62,0.72,0.82],"a":[-225,-225,-225],"b":[-342,-333,-330],"z":7},{"x":[0.82,0.92,1.02],"a":[-225,-225,-225],"b":[-330,-326,-326],"z":7},{"x":[1.02,1.12,1.22],"a":[-225,-225,-225],"b":[-326,-323,-339],"z":8},{"x":[1.22,1.3,1.41],"a":[-225,-225,-225],"b":[-339,-343,-383],"z":10},
{"x":[-2.62,-2.58,1.35,1.39],"a":[-38,-38,-33,-71],"b":[-63,-113,-110,-110],"z":0},
{"x":[-2.55,-2.44,-1.5,-0.1,1.43,1.46],"a":[-171,-169,-163,-168,-180,-200],"b":[-245,-239,-238,-237,-234,-233],"z":0}
]},
"transform":[{"window":[{"op":"row_number","as":"id"}]},{"flatten":["x","a","b"]}],
"encoding":{"y2":{"field":"b"},"detail":{"field":"id","type":"nominal"},
"color":{"field":"z","type":"quantitative","legend":null,"scale":{"domain":[0,12.5,25,37.5,50,62.5,75,87.5,100],"range":["#00007f","#0000ff","#007fff","#00ffff","#7fff7f","#ffff00","#ff7f00","#ff0000","#7f0000"]}},
"stroke":{"field":"z","type":"quantitative","legend":null,"scale":{"domain":[0,12.5,25,37.5,50,62.5,75,87.5,100],"range":["#00007f","#0000ff","#007fff","#00ffff","#7fff7f","#ffff00","#ff7f00","#ff0000","#7f0000"]}}}},
{"data":{"name":"lower","values":[
{"x":[-2.56,-2.47,-2.37],"a":[-235,-235,-235],"b":[-496,-503,-519],"z":14,"e":58},{"x":[-2.37,-2.27,-2.17],"a":[-235,-235,-235],"b":[-519,-543,-567],"z":13,"e":64},{"x":[-2.17,-2.07,-1.97],"a":[-235,-235,-235],"b":[-567,-596,-625],"z":13,"e":72},{"x":[-1.97,-1.87,-1.77],"a":[-235,-235,-235],"b":[-625,-646,-661],"z":12.5,"e":84},{"x":[-1.77,-1.67,-1.57],"a":[-235,-235,-235],"b":[-661,-648,-643],"z":13,"e":87},
{"x":[-1.57,-1.47,-1.37],"a":[-240,-248,-256],"b":[-643,-643,-664],"z":14,"e":87},{"x":[-1.37,-1.27,-1.17],"a":[-256,-273,-279],"b":[-664,-657,-719],"z":17,"e":87},{"x":[-1.17,-1.07,-0.97],"a":[-279,-283,-284],"b":[-719,-728,-740],"z":18,"e":87},{"x":[-0.97,-0.87,-0.77],"a":[-284,-271,-270],"b":[-740,-713,-688],"z":17,"e":87},{"x":[-0.77,-0.67,-0.58],"a":[-270,-279,-279],"b":[-688,-666,-644],"z":17,"e":87},{"x":[-0.58,-0.48,-0.38],"a":[-279,-290,-298],"b":[-644,-643,-604],"z":18,"e":85},{"x":[-0.38,-0.28,-0.17],"a":[-298,-307,-283],"b":[-604,-588,-575],"z":21,"e":78},{"x":[-0.17,-0.07,0.03],"a":[-283,-294,-292],"b":[-575,-573,-542],"z":22,"e":74},{"x":[0.03,0.12,0.32],"a":[-292,-285,-297],"b":[-542,-513,-473],"z":23,"e":68},{"x":[0.32,0.41,0.51],"a":[-297,-304,-321],"b":[-473,-471,-468],"z":25,"e":60},{"x":[0.51,0.57,0.62],"a":[-321,-331,-342],"b":[-468,-452,-434],"z":27,"e":56},{"x":[0.62,0.72,0.82],"a":[-342,-333,-330],"b":[-434,-429,-430],"z":34,"e":50},{"x":[0.82,0.92,1.02],"a":[-330,-326,-326],"b":[-430,-419,-398],"z":33,"e":47},{"x":[1.02,1.12,1.22],"a":[-326,-323,-339],"b":[-398,-389,-383],"z":30,"e":44},{"x":[1.22,1.3,1.41],"a":[-339,-343,-383],"b":[-383,-379,-383],"z":32,"e":40}
]},
"transform":[{"window":[{"op":"row_number","as":"id"}]},{"flatten":["x","a","b"]}],
"layer":[
{"mark":{"type":"area","strokeWidth":0.5},"encoding":{"y2":{"field":"b"},"detail":{"field":"id","type":"nominal"},
"color":{"field":"z","type":"quantitative","legend":null,"scale":{"domain":[0,12.5,25,37.5,50,62.5,75,87.5,100],"range":["#00007f","#0000ff","#007fff","#00ffff","#7fff7f","#ffff00","#ff7f00","#ff0000","#7f0000"]}},
"stroke":{"field":"z","type":"quantitative","legend":null,"scale":{"domain":[0,12.5,25,37.5,50,62.5,75,87.5,100],"range":["#00007f","#0000ff","#007fff","#00ffff","#7fff7f","#ffff00","#ff7f00","#ff0000","#7f0000"]}}}},
{"mark":{"type":"rule","strokeWidth":0.6,"opacity":0.3},"encoding":{"y":{"field":"b","type":"quantitative"},"y2":{"field":"a"},
"stroke":{"field":"e","type":"quantitative","legend":null,"scale":{"domain":[0,12.5,25,37.5,50,62.5,75,87.5,100],"range":["#00007f","#0000ff","#007fff","#00ffff","#7fff7f","#ffff00","#ff7f00","#ff0000","#7f0000"]}}}},
{"mark":{"type":"line","strokeWidth":1},"encoding":{"y":{"field":"b","type":"quantitative"},"detail":{"field":"id","type":"nominal"},
"stroke":{"field":"e","type":"quantitative","legend":null,"scale":{"domain":[0,12.5,25,37.5,50,62.5,75,87.5,100],"range":["#00007f","#0000ff","#007fff","#00ffff","#7fff7f","#ffff00","#ff7f00","#ff0000","#7f0000"]}}}}
]},
{"mark":{"type":"rule","stroke":"#444444","strokeWidth":1},
"data":{"values":[
{"x":-2.615,"x2":-2.605,"a":-5,"b":-738},{"x":-2.605,"x2":-2.505,"a":-738,"b":-940},{"x":-2.505,"x2":1.475,"a":-940,"b":-938},
{"x":-2.705,"x2":-2.605,"a":-755,"b":-755},{"x":-2.655,"x2":-2.555,"a":-855,"b":-855}
]},"encoding":{"x2":{"field":"x2"},"y2":{"field":"b"}}},
{"mark":{"type":"text","align":"right","baseline":"middle","font":"Liberation Serif","fontSize":13,"color":"#444444"},
"data":{"values":[{"x":-2.745,"a":-755,"t":"5"},{"x":-2.685,"a":-855,"t":"4"}]},"encoding":{"text":{"field":"t"}}},
{"mark":{"type":"text","align":"center","baseline":"middle","font":"Liberation Serif","fontSize":14,"color":"#333333"},
"data":{"values":[{"x":-0.565,"a":-10,"t":"DPNDT v vs ϵ"}]},"encoding":{"text":{"field":"t"}}},
{"mark":{"type":"text","align":"center","baseline":"middle","font":"Liberation Sans","fontSize":16,"color":"#000000"},
"data":{"values":[{"x":-0.675,"a":-1130,"t":"(b)"}]},"encoding":{"text":{"field":"t"}}},
{"mark":{"type":"point","shape":"M-1,-1L1,1M-1,1L1,-1","filled":false,"stroke":"#000000","strokeWidth":1.5,"size":289,"opacity":1},
"data":{"values":[{"x":-0.505,"a":-740}]}}
]}
]}
